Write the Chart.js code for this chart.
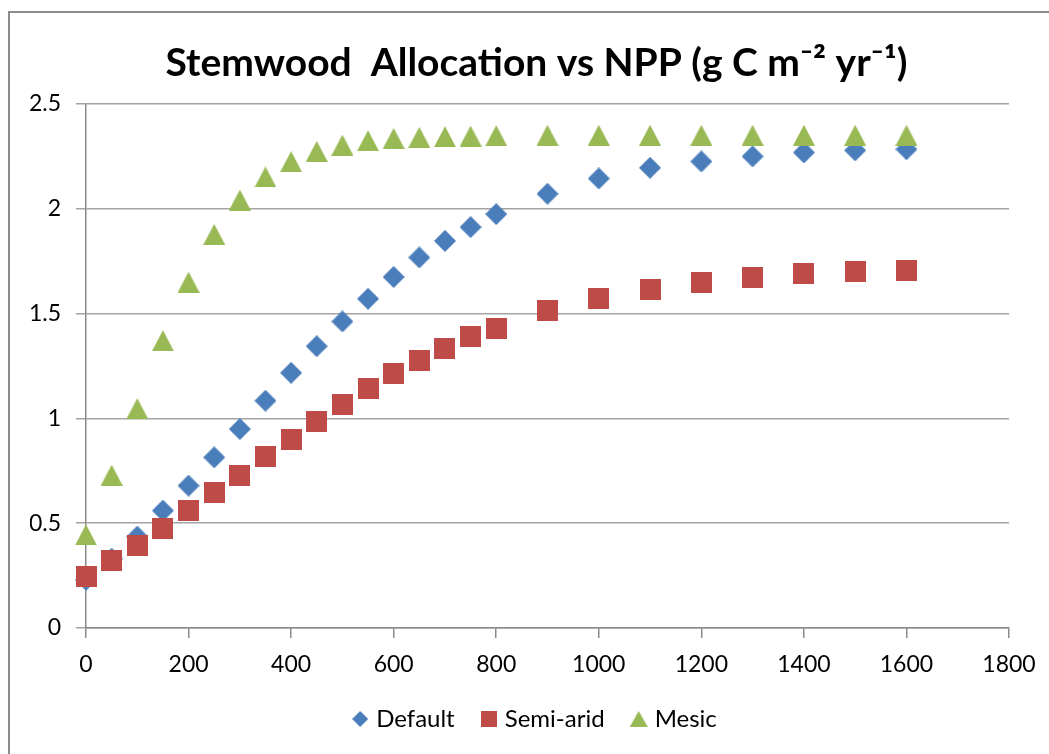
<!DOCTYPE html>
<html>
<head>
<meta charset="utf-8">
<script src="https://cdn.jsdelivr.net/npm/chart.js@4.4.0/dist/chart.umd.min.js"></script>
<style>
html,body{margin:0;padding:0;background:#fff;}
#wrap{width:1049px;height:754px;position:relative;}
</style>
</head>
<body>
<div id="wrap"><canvas id="c"></canvas></div>
<script>
// ---- data ----
const npp = [0, 50, 100, 150, 200, 250, 300, 350, 400, 450, 500, 550, 600, 650, 700, 750, 800, 900, 1000, 1100, 1200, 1300, 1400, 1500, 1600];
const defaultAlloc = [0.23, 0.33, 0.436, 0.56, 0.679, 0.814, 0.949, 1.084, 1.217, 1.344, 1.462, 1.57, 1.674, 1.767, 1.846, 1.912, 1.974, 2.071, 2.144, 2.195, 2.225, 2.249, 2.268, 2.278, 2.283];
const semiAridAlloc = [0.246, 0.32, 0.393, 0.473, 0.558, 0.644, 0.729, 0.816, 0.9, 0.986, 1.065, 1.14, 1.212, 1.274, 1.333, 1.389, 1.43, 1.512, 1.573, 1.616, 1.646, 1.67, 1.69, 1.701, 1.706];
const mesicAlloc = [0.444, 0.729, 1.046, 1.37, 1.649, 1.877, 2.041, 2.151, 2.224, 2.273, 2.303, 2.324, 2.335, 2.34, 2.343, 2.346, 2.348, 2.35, 2.35, 2.35, 2.35, 2.35, 2.35, 2.35, 2.35];
const seriesNames = ['Default', 'Semi-arid', 'Mesic'];
const xTickValues = [0, 200, 400, 600, 800, 1000, 1200, 1400, 1600, 1800];
const yTickValues = [0, 0.5, 1, 1.5, 2, 2.5];
const titleText = 'Stemwood  Allocation vs NPP (g C m\u207B\u00B2 yr\u207B\u00B9)';

// ---- marker images ----
function marker(shape, w, h, color) {
  const c = document.createElement('canvas');
  c.width = w; c.height = h;
  const g = c.getContext('2d');
  g.fillStyle = color;
  g.beginPath();
  if (shape === 'diamond') {
    g.moveTo(w / 2, 0); g.lineTo(w, h / 2); g.lineTo(w / 2, h); g.lineTo(0, h / 2);
  } else if (shape === 'square') {
    g.rect(0, 0, w, h);
  } else {
    g.moveTo(w / 2, 0); g.lineTo(w, h); g.lineTo(0, h);
  }
  g.closePath();
  g.fill();
  return c;
}
const colors = ['#4A7EBB', '#BE4B48', '#98B954'];
const plotMarkers = [marker('diamond', 22, 22, colors[0]), marker('square', 21, 21, colors[1]), marker('triangle', 22, 21, colors[2])];
const legendMarkers = [marker('diamond', 16, 16, colors[0]), marker('square', 16, 16, colors[1]), marker('triangle', 18, 16, colors[2])];

function pts(ys) { return npp.map((x, i) => ({x: x, y: ys[i]})); }
const seriesValues = [defaultAlloc, semiAridAlloc, mesicAlloc];

const frame = {
  id: 'frame',
  beforeDraw(chart) {
    const ctx = chart.ctx;
    ctx.save();
    ctx.fillStyle = '#fff';
    ctx.fillRect(0, 0, chart.width, chart.height);
    ctx.strokeStyle = '#8c8c8c';
    ctx.lineWidth = 2;
    ctx.strokeRect(9, 12, 1200, 900);
    ctx.restore();
  }
};

const gridColor = '#a3a3a3';
const axisColor = '#8a8a8a';

new Chart(document.getElementById('c'), {
  type: 'scatter',
  data: {
    datasets: seriesNames.map((name, i) => ({
      label: name,
      data: pts(seriesValues[i]),
      pointStyle: plotMarkers[i],
      pointRadius: 10,
      pointHoverRadius: 10,
      backgroundColor: colors[i],
      borderColor: colors[i],
      showLine: false,
      clip: false,
      order: 3 - i
    }))
  },
  options: {
    responsive: true,
    maintainAspectRatio: false,
    animation: false,
    events: [],
    layout: {padding: {left: 30, right: 6, top: 0, bottom: 13}},
    plugins: {
      tooltip: {enabled: false},
      title: {
        display: true,
        text: titleText,
        color: '#000',
        font: {family: 'Lato', size: 39, weight: 'bold'},
        padding: {top: 40, bottom: 17}
      },
      legend: {
        position: 'bottom',
        labels: {
          usePointStyle: true,
          boxWidth: 8,
          boxHeight: 8,
          padding: 30,
          color: '#000',
          font: {family: 'Lato', size: 24},
          generateLabels(chart) {
            return seriesNames.map((name, i) => ({
              text: name,
              pointStyle: legendMarkers[i],
              fillStyle: colors[i],
              strokeStyle: colors[i],
              lineWidth: 0,
              hidden: false,
              datasetIndex: i,
              fontColor: '#000'
            }));
          }
        }
      }
    },
    scales: {
      x: {
        type: 'linear',
        min: 0, max: 1800,
        afterBuildTicks(scale) { scale.ticks = xTickValues.map(v => ({value: v})); },
        afterFit(scale) { scale.height = 49; scale.paddingRight = 40; },
        ticks: {
          color: '#000',
          font: {family: 'Lato', size: 23},
          padding: 13,
          maxRotation: 0,
          callback: v => String(v)
        },
        grid: {drawOnChartArea: false, drawTicks: true, tickLength: 10, color: axisColor, lineWidth: 1.5},
        border: {display: true, color: axisColor, width: 1.5}
      },
      y: {
        type: 'linear',
        min: 0, max: 2.5,
        afterBuildTicks(scale) { scale.ticks = yTickValues.map(v => ({value: v})); },
        afterFit(scale) { scale.width = 56; },
        ticks: {
          color: '#000',
          font: {family: 'Lato', size: 23},
          padding: 15,
          callback: v => String(v)
        },
        grid: {drawOnChartArea: true, drawTicks: true, tickLength: 10, color: gridColor, lineWidth: 1.5},
        border: {display: true, color: axisColor, width: 1.5}
      }
    }
  },
  plugins: [frame]
});
</script>
</body>
</html>
